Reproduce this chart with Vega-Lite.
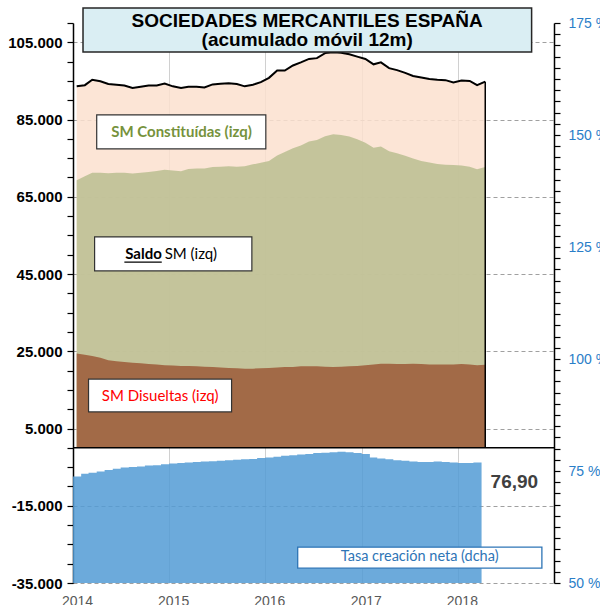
{
  "$schema": "https://vega.github.io/schema/vega-lite/v6.json",
  "width": 481,
  "height": 560,
  "autosize": {"type": "none"},
  "padding": {"left": 73, "top": 23, "right": 46, "bottom": 22},
  "background": "white",
  "config": {
    "view": {"stroke": null},
    "axis": {"labelOverlap": false},
    "locale": {"number": {"decimal": ",", "thousands": ".", "grouping": [3], "currency": ["", " €"], "minus": "-"}}
  },
  "datasets": {
    "sm": [
      {"date": "2014-01-15", "constituidas": 93600, "saldo": 69300, "disueltas": 24400},
      {"date": "2014-02-15", "constituidas": 93900, "saldo": 70300, "disueltas": 24100},
      {"date": "2014-03-15", "constituidas": 95300, "saldo": 71200, "disueltas": 23800},
      {"date": "2014-04-15", "constituidas": 94900, "saldo": 71200, "disueltas": 23300},
      {"date": "2014-05-15", "constituidas": 94200, "saldo": 71100, "disueltas": 22700},
      {"date": "2014-06-15", "constituidas": 94000, "saldo": 71200, "disueltas": 22400},
      {"date": "2014-07-15", "constituidas": 93800, "saldo": 71200, "disueltas": 22200},
      {"date": "2014-08-15", "constituidas": 93200, "saldo": 71000, "disueltas": 22000},
      {"date": "2014-09-15", "constituidas": 93500, "saldo": 71200, "disueltas": 21900},
      {"date": "2014-10-15", "constituidas": 93800, "saldo": 71400, "disueltas": 21700},
      {"date": "2014-11-15", "constituidas": 93800, "saldo": 71700, "disueltas": 21600},
      {"date": "2014-12-15", "constituidas": 94300, "saldo": 72000, "disueltas": 21400},
      {"date": "2015-01-15", "constituidas": 93600, "saldo": 71800, "disueltas": 21300},
      {"date": "2015-02-15", "constituidas": 93200, "saldo": 71600, "disueltas": 21200},
      {"date": "2015-03-15", "constituidas": 93500, "saldo": 72200, "disueltas": 21200},
      {"date": "2015-04-15", "constituidas": 93500, "saldo": 72300, "disueltas": 21100},
      {"date": "2015-05-15", "constituidas": 93300, "saldo": 72300, "disueltas": 21000},
      {"date": "2015-06-15", "constituidas": 94100, "saldo": 72700, "disueltas": 20900},
      {"date": "2015-07-15", "constituidas": 94300, "saldo": 72800, "disueltas": 20800},
      {"date": "2015-08-15", "constituidas": 94400, "saldo": 72900, "disueltas": 20700},
      {"date": "2015-09-15", "constituidas": 94200, "saldo": 72800, "disueltas": 20600},
      {"date": "2015-10-15", "constituidas": 93600, "saldo": 72900, "disueltas": 20500},
      {"date": "2015-11-15", "constituidas": 94000, "saldo": 73400, "disueltas": 20500},
      {"date": "2015-12-15", "constituidas": 94700, "saldo": 73800, "disueltas": 20600},
      {"date": "2016-01-15", "constituidas": 95800, "saldo": 74300, "disueltas": 20700},
      {"date": "2016-02-15", "constituidas": 97700, "saldo": 75700, "disueltas": 20800},
      {"date": "2016-03-15", "constituidas": 97700, "saldo": 76600, "disueltas": 20900},
      {"date": "2016-04-15", "constituidas": 99000, "saldo": 77600, "disueltas": 20900},
      {"date": "2016-05-15", "constituidas": 99800, "saldo": 78300, "disueltas": 21100},
      {"date": "2016-06-15", "constituidas": 100700, "saldo": 79300, "disueltas": 21100},
      {"date": "2016-07-15", "constituidas": 100900, "saldo": 79700, "disueltas": 21100},
      {"date": "2016-08-15", "constituidas": 102200, "saldo": 80700, "disueltas": 21000},
      {"date": "2016-09-15", "constituidas": 102400, "saldo": 81200, "disueltas": 20900},
      {"date": "2016-10-15", "constituidas": 102300, "saldo": 81000, "disueltas": 21000},
      {"date": "2016-11-15", "constituidas": 101900, "saldo": 80600, "disueltas": 21100},
      {"date": "2016-12-15", "constituidas": 101300, "saldo": 79900, "disueltas": 21200},
      {"date": "2017-01-15", "constituidas": 100700, "saldo": 79000, "disueltas": 21400},
      {"date": "2017-02-15", "constituidas": 99300, "saldo": 77700, "disueltas": 21600},
      {"date": "2017-03-15", "constituidas": 99800, "saldo": 78000, "disueltas": 21800},
      {"date": "2017-04-15", "constituidas": 98300, "saldo": 76800, "disueltas": 21800},
      {"date": "2017-05-15", "constituidas": 97800, "saldo": 76300, "disueltas": 21700},
      {"date": "2017-06-15", "constituidas": 97100, "saldo": 75600, "disueltas": 21700},
      {"date": "2017-07-15", "constituidas": 96300, "saldo": 74900, "disueltas": 21800},
      {"date": "2017-08-15", "constituidas": 95900, "saldo": 74300, "disueltas": 21700},
      {"date": "2017-09-15", "constituidas": 95500, "saldo": 73900, "disueltas": 21600},
      {"date": "2017-10-15", "constituidas": 95300, "saldo": 73500, "disueltas": 21600},
      {"date": "2017-11-15", "constituidas": 95200, "saldo": 73300, "disueltas": 21600},
      {"date": "2017-12-15", "constituidas": 94600, "saldo": 73200, "disueltas": 21600},
      {"date": "2018-01-15", "constituidas": 95100, "saldo": 73100, "disueltas": 21700},
      {"date": "2018-02-15", "constituidas": 95000, "saldo": 72800, "disueltas": 21600},
      {"date": "2018-03-15", "constituidas": 93900, "saldo": 72100, "disueltas": 21400},
      {"date": "2018-04-15", "constituidas": 94800, "saldo": 72700, "disueltas": 21500}
    ],
    "tasa": [
      {"date": "2014-01-01", "tasa": 73.8}, {"date": "2014-02-01", "tasa": 74.4}, {"date": "2014-03-01", "tasa": 74.6},
      {"date": "2014-04-01", "tasa": 74.9}, {"date": "2014-05-01", "tasa": 75.2}, {"date": "2014-06-01", "tasa": 75.5},
      {"date": "2014-07-01", "tasa": 75.8}, {"date": "2014-08-01", "tasa": 75.9}, {"date": "2014-09-01", "tasa": 76.0},
      {"date": "2014-10-01", "tasa": 76.2}, {"date": "2014-11-01", "tasa": 76.3}, {"date": "2014-12-01", "tasa": 76.5},
      {"date": "2015-01-01", "tasa": 76.7}, {"date": "2015-02-01", "tasa": 76.8}, {"date": "2015-03-01", "tasa": 76.9},
      {"date": "2015-04-01", "tasa": 77.0}, {"date": "2015-05-01", "tasa": 77.1}, {"date": "2015-06-01", "tasa": 77.2},
      {"date": "2015-07-01", "tasa": 77.3}, {"date": "2015-08-01", "tasa": 77.4}, {"date": "2015-09-01", "tasa": 77.5},
      {"date": "2015-10-01", "tasa": 77.6}, {"date": "2015-11-01", "tasa": 77.7}, {"date": "2015-12-01", "tasa": 77.9},
      {"date": "2016-01-01", "tasa": 78.0}, {"date": "2016-02-01", "tasa": 78.2}, {"date": "2016-03-01", "tasa": 78.4},
      {"date": "2016-04-01", "tasa": 78.5}, {"date": "2016-05-01", "tasa": 78.7}, {"date": "2016-06-01", "tasa": 78.8},
      {"date": "2016-07-01", "tasa": 79.0}, {"date": "2016-08-01", "tasa": 79.1}, {"date": "2016-09-01", "tasa": 79.2},
      {"date": "2016-10-01", "tasa": 79.3}, {"date": "2016-11-01", "tasa": 79.2}, {"date": "2016-12-01", "tasa": 79.0},
      {"date": "2017-01-01", "tasa": 78.8}, {"date": "2017-02-01", "tasa": 78.0}, {"date": "2017-03-01", "tasa": 77.8},
      {"date": "2017-04-01", "tasa": 77.6}, {"date": "2017-05-01", "tasa": 77.4}, {"date": "2017-06-01", "tasa": 77.3},
      {"date": "2017-07-01", "tasa": 77.1}, {"date": "2017-08-01", "tasa": 77.0}, {"date": "2017-09-01", "tasa": 77.0},
      {"date": "2017-10-01", "tasa": 77.1}, {"date": "2017-11-01", "tasa": 77.0}, {"date": "2017-12-01", "tasa": 76.9},
      {"date": "2018-01-01", "tasa": 76.8}, {"date": "2018-02-01", "tasa": 76.8}, {"date": "2018-03-01", "tasa": 76.9},
      {"date": "2018-04-01", "tasa": 76.9}
    ]
  },
  "layer": [
    {
      "data": {"name": "sm", "format": {"parse": {"date": "date"}}},
      "layer": [
        {
          "mark": {"type": "area", "color": "#FBE0CF", "fillOpacity": 0.85},
          "encoding": {
            "x": {
              "field": "date", "type": "temporal", "title": null,
              "scale": {"type": "utc", "domain": [{"year": 2014, "month": 1, "date": 1, "utc": true}, {"year": 2019, "month": 1, "date": 1, "utc": true}]},
              "axis": {
                "values": [{"year": 2014, "month": 1, "date": 1, "utc": true}, {"year": 2015, "month": 1, "date": 1, "utc": true}, {"year": 2016, "month": 1, "date": 1, "utc": true}, {"year": 2017, "month": 1, "date": 1, "utc": true}, {"year": 2018, "month": 1, "date": 1, "utc": true}],
                "format": "%Y", "domain": false, "ticks": false,
                "labelColor": "#595959", "labelFont": "Liberation Sans", "labelFontSize": 14, "labelPadding": 11,
                "labelFlush": false, "labelOffset": 4, "labelOverlap": false,
                "grid": true, "gridColor": "#D0D0D0", "gridWidth": 1, "zindex": 0
              }
            },
            "y": {
              "field": "constituidas", "type": "quantitative", "title": null,
              "scale": {"domain": [-35000, 110000], "nice": false, "zero": false},
              "axis": {
                "values": [-35000, -30000, -25000, -20000, -15000, -10000, -5000, 0, 5000, 10000, 15000, 20000, 25000, 30000, 35000, 40000, 45000, 50000, 55000, 60000, 65000, 70000, 75000, 80000, 85000, 90000, 95000, 100000, 105000, 110000],
                "tickCount": 500,
                "format": ",.0f",
                "labelExpr": "(datum.value + 35000) % 20000 == 0 ? datum.label : ''",
                "labelOverlap": false, "labelFlush": false,
                "labelFont": "Liberation Sans", "labelFontWeight": "bold", "labelColor": "black", "labelPadding": 5,
                "labelFontSize": {"condition": {"test": "(datum.value + 35000) % 20000 == 0", "value": 15}, "value": 0},
                "domainColor": "black", "domainWidth": 1.5, "ticks": true, "tickColor": "black", "tickSize": 6, "tickWidth": 1.2,
                "grid": true, "gridColor": "#A0A0A0", "gridDash": [4, 3], "gridWidth": 1,
                "gridOpacity": {"condition": {"test": "(datum.value + 35000) % 20000 == 0", "value": 1}, "value": 0},
                "zindex": 0
              }
            }
          }
        },
        {
          "mark": {"type": "area", "color": "#BABE91", "fillOpacity": 0.85},
          "encoding": {
            "x": {"field": "date", "type": "temporal", "title": null},
            "y": {"field": "saldo", "type": "quantitative", "title": null}
          }
        },
        {
          "mark": {"type": "area", "color": "#A26A47"},
          "encoding": {
            "x": {"field": "date", "type": "temporal", "title": null},
            "y": {"field": "disueltas", "type": "quantitative", "title": null}
          }
        },
        {
          "mark": {"type": "line", "color": "black", "strokeWidth": 2},
          "encoding": {
            "x": {"field": "date", "type": "temporal", "title": null},
            "y": {"field": "constituidas", "type": "quantitative", "title": null}
          }
        },
        {
          "transform": [
            {"joinaggregate": [{"op": "max", "field": "date", "as": "last"}]},
            {"filter": "time(datum.date) == time(datum.last)"}
          ],
          "mark": {"type": "rule", "color": "black", "strokeWidth": 1.5},
          "encoding": {
            "x": {"field": "date", "type": "temporal", "title": null},
            "y": {"field": "constituidas", "type": "quantitative", "title": null},
            "y2": {"datum": 0}
          }
        },
        {
          "data": {"values": [{}]},
          "mark": {"type": "rule", "color": "black", "strokeWidth": 1.5},
          "encoding": {"y": {"datum": 0, "type": "quantitative"}}
        },
        {
          "data": {"values": [{}]},
          "mark": {"type": "rect", "fill": "#DAEEF3", "stroke": "#262626", "strokeWidth": 1.5},
          "encoding": {
            "x": {"datum": {"year": 2014, "month": 2, "date": 8, "utc": true}, "type": "temporal"},
            "x2": {"datum": {"year": 2018, "month": 10, "date": 8, "utc": true}},
            "y": {"datum": 113900, "type": "quantitative"},
            "y2": {"datum": 102500}
          }
        },
        {
          "data": {"values": [{}]},
          "mark": {"type": "text", "text": "SOCIEDADES MERCANTILES ESPAÑA", "font": "Liberation Sans", "fontWeight": "bold", "fontSize": 19, "color": "black", "align": "center", "baseline": "middle"},
          "encoding": {
            "x": {"datum": {"year": 2016, "month": 6, "date": 8, "utc": true}, "type": "temporal"},
            "y": {"datum": 110600, "type": "quantitative"}
          }
        },
        {
          "data": {"values": [{}]},
          "mark": {"type": "text", "text": "(acumulado móvil 12m)", "font": "Liberation Sans", "fontWeight": "bold", "fontSize": 19, "color": "black", "align": "center", "baseline": "middle"},
          "encoding": {
            "x": {"datum": {"year": 2016, "month": 6, "date": 8, "utc": true}, "type": "temporal"},
            "y": {"datum": 105700, "type": "quantitative"}
          }
        },
        {
          "data": {"values": [{}]},
          "mark": {"type": "rect", "fill": "white", "stroke": "#333333", "strokeWidth": 1.2},
          "encoding": {
            "x": {"datum": {"year": 2014, "month": 4, "date": 1, "utc": true}, "type": "temporal"},
            "x2": {"datum": {"year": 2016, "month": 1, "date": 3, "utc": true}},
            "y": {"datum": 86200, "type": "quantitative"},
            "y2": {"datum": 77400}
          }
        },
        {
          "data": {"values": [{}]},
          "mark": {"type": "text", "text": "SM Constituídas (izq)", "font": "Lato", "fontWeight": "bold", "fontSize": 15, "color": "#76923C", "align": "center", "baseline": "middle"},
          "encoding": {
            "x": {"datum": {"year": 2015, "month": 2, "date": 17, "utc": true}, "type": "temporal"},
            "y": {"datum": 81800, "type": "quantitative"}
          }
        },
        {
          "data": {"values": [{}]},
          "mark": {"type": "rect", "fill": "white", "stroke": "#333333", "strokeWidth": 1.2},
          "encoding": {
            "x": {"datum": {"year": 2014, "month": 3, "date": 24, "utc": true}, "type": "temporal"},
            "x2": {"datum": {"year": 2015, "month": 11, "date": 11, "utc": true}},
            "y": {"datum": 54600, "type": "quantitative"},
            "y2": {"datum": 45800}
          }
        },
        {
          "data": {"values": [{}]},
          "mark": {"type": "text", "text": "Saldo", "font": "Lato", "fontWeight": "bold", "fontSize": 15, "color": "black", "align": "right", "baseline": "middle"},
          "encoding": {
            "x": {"datum": {"year": 2014, "month": 12, "date": 4, "utc": true}, "type": "temporal"},
            "y": {"datum": 50200, "type": "quantitative"}
          }
        },
        {
          "data": {"values": [{}]},
          "mark": {"type": "text", "text": "SM (izq)", "font": "Lato", "fontSize": 15, "color": "black", "align": "left", "baseline": "middle"},
          "encoding": {
            "x": {"datum": {"year": 2014, "month": 12, "date": 15, "utc": true}, "type": "temporal"},
            "y": {"datum": 50200, "type": "quantitative"}
          }
        },
        {
          "data": {"values": [{}]},
          "mark": {"type": "rule", "color": "black", "strokeWidth": 1.3},
          "encoding": {
            "x": {"datum": {"year": 2014, "month": 7, "date": 15, "utc": true}, "type": "temporal"},
            "x2": {"datum": {"year": 2014, "month": 12, "date": 4, "utc": true}},
            "y": {"datum": 48100, "type": "quantitative"}
          }
        },
        {
          "data": {"values": [{}]},
          "mark": {"type": "rect", "fill": "white", "stroke": "#333333", "strokeWidth": 1.2},
          "encoding": {
            "x": {"datum": {"year": 2014, "month": 3, "date": 1, "utc": true}, "type": "temporal"},
            "x2": {"datum": {"year": 2015, "month": 8, "date": 26, "utc": true}},
            "y": {"datum": 17800, "type": "quantitative"},
            "y2": {"datum": 9300}
          }
        },
        {
          "data": {"values": [{}]},
          "mark": {"type": "text", "text": "SM Disueltas (izq)", "font": "Lato", "fontSize": 15, "color": "#FF0000", "align": "center", "baseline": "middle"},
          "encoding": {
            "x": {"datum": {"year": 2014, "month": 11, "date": 28, "utc": true}, "type": "temporal"},
            "y": {"datum": 13500, "type": "quantitative"}
          }
        }
      ]
    },
    {
      "data": {"name": "tasa", "format": {"parse": {"date": "date"}}},
      "layer": [
        {
          "mark": {"type": "area", "interpolate": "step-after", "color": "#529BD5", "fillOpacity": 0.85},
          "encoding": {
            "x": {"field": "date", "type": "temporal", "title": null},
            "y": {
              "field": "tasa", "type": "quantitative", "title": null,
              "scale": {"domain": [50, 175], "nice": false, "zero": false},
              "axis": {
                "orient": "right",
                "values": [50, 52.5, 55, 57.5, 60, 62.5, 65, 67.5, 70, 72.5, 75, 77.5, 80, 82.5, 85, 87.5, 90, 92.5, 95, 97.5, 100, 102.5, 105, 107.5, 110, 112.5, 115, 117.5, 120, 122.5, 125, 127.5, 130, 132.5, 135, 137.5, 140, 142.5, 145, 147.5, 150, 152.5, 155, 157.5, 160, 162.5, 165, 167.5, 170, 172.5, 175],
                "tickCount": 500,
                "labelExpr": "datum.value % 25 == 0 ? format(datum.value, 'd') + ' %' : ''",
                "labelOverlap": false, "labelFlush": false,
                "labelFont": "Liberation Sans", "labelColor": "#2A7EC8", "labelPadding": 8,
                "labelFontSize": {"condition": {"test": "datum.value % 25 == 0", "value": 14}, "value": 0},
                "domainColor": "black", "domainWidth": 1.5, "ticks": true, "tickColor": "black", "tickSize": 6, "tickWidth": 1.2,
                "grid": false
              }
            },
            "y2": {"datum": 50}
          }
        },
        {
          "transform": [
            {"joinaggregate": [{"op": "max", "field": "date", "as": "last"}]},
            {"filter": "time(datum.date) == time(datum.last)"}
          ],
          "mark": {"type": "text", "font": "Liberation Sans", "fontWeight": "bold", "fontSize": 19, "color": "#404040", "align": "left", "baseline": "middle", "dx": 9, "dy": 20},
          "encoding": {
            "x": {"field": "date", "type": "temporal", "title": null},
            "y": {"field": "tasa", "type": "quantitative", "title": null},
            "text": {"field": "tasa", "type": "quantitative", "format": ".2f"}
          }
        },
        {
          "data": {"values": [{}]},
          "mark": {"type": "rect", "fill": "white", "stroke": "#2E75B6", "strokeWidth": 1.3},
          "encoding": {
            "x": {"datum": {"year": 2016, "month": 5, "date": 3, "utc": true}, "type": "temporal"},
            "x2": {"datum": {"year": 2018, "month": 11, "date": 16, "utc": true}},
            "y": {"datum": 58.0, "type": "quantitative"},
            "y2": {"datum": 53.3}
          }
        },
        {
          "data": {"values": [{}]},
          "mark": {"type": "text", "text": "Tasa creación neta (dcha)", "font": "Lato", "fontSize": 14.5, "color": "#2E75B6", "align": "center", "baseline": "middle"},
          "encoding": {
            "x": {"datum": {"year": 2017, "month": 8, "date": 9, "utc": true}, "type": "temporal"},
            "y": {"datum": 55.7, "type": "quantitative"}
          }
        }
      ]
    }
  ],
  "resolve": {"scale": {"y": "independent"}, "axis": {"y": "independent"}}
}
